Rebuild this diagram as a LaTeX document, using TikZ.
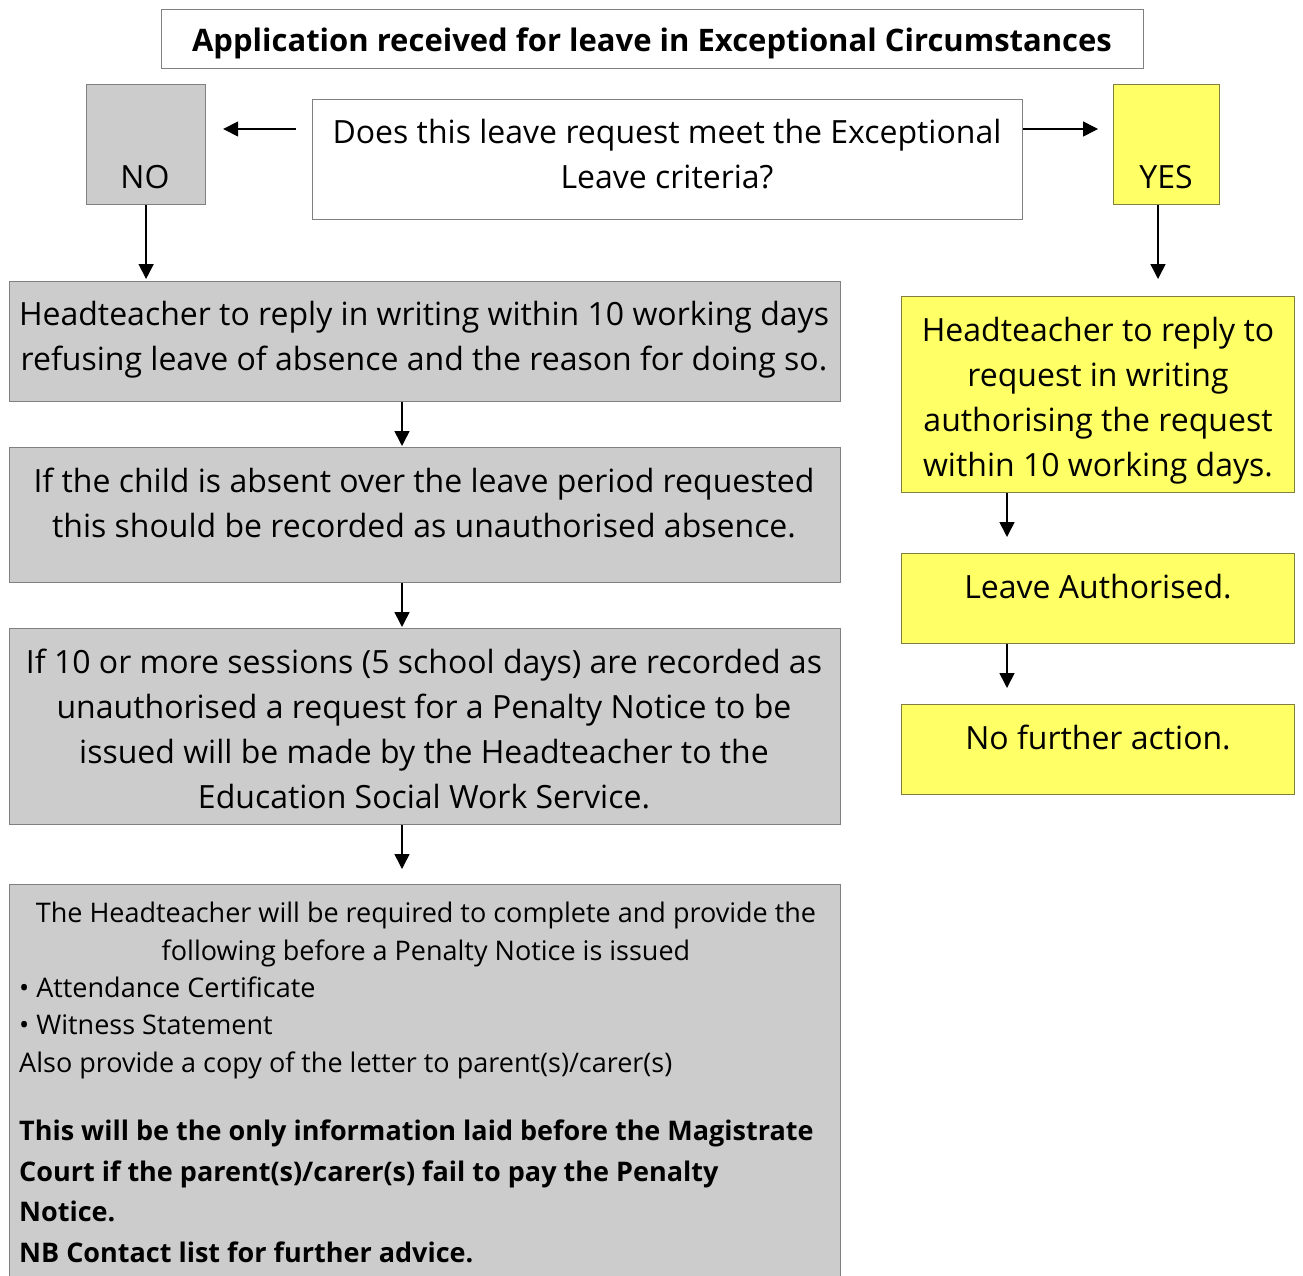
\documentclass[tikz,border=0pt]{standalone}
\usepackage{fontspec}
\setmainfont{Open Sans}
\usetikzlibrary{arrows.meta}
\definecolor{boxgray}{HTML}{CCCCCC}
\definecolor{graydraw}{HTML}{808080}
\definecolor{boxyellow}{HTML}{FFFF66}
\definecolor{yellowdraw}{HTML}{7F7F3F}
\begin{document}
\begin{tikzpicture}[x=1pt,y=-1pt,
  basebox/.style={rectangle, anchor=north west, inner sep=0pt, line width=1.2pt},
  whitebox/.style={basebox, draw=graydraw, fill=white},
  graybox/.style={basebox, draw=graydraw, fill=boxgray},
  yellowbox/.style={basebox, draw=yellowdraw, fill=boxyellow},
  txt/.style={anchor=base, inner sep=0pt, align=center, font=\fontsize{32}{45}\selectfont},
  ltxt/.style={anchor=base west, inner sep=0pt, align=left},
  arr/.style={line width=1.6pt, -{Triangle[length=15pt,width=15pt]}}
]
\useasboundingbox (0,0) rectangle (1303,1276);

% boxes
\node[whitebox, minimum width=982pt, minimum height=59pt] (title) at (161,9) {};
\node[graybox, minimum width=119pt, minimum height=120pt] (no) at (86,84) {};
\node[whitebox, minimum width=710pt, minimum height=120pt] (q) at (312,99) {};
\node[yellowbox, minimum width=106pt, minimum height=120pt] (yes) at (1113,84) {};
\node[graybox, minimum width=831pt, minimum height=120pt] (h1) at (9,281) {};
\node[graybox, minimum width=831pt, minimum height=135pt] (h2) at (9,447) {};
\node[graybox, minimum width=831pt, minimum height=196pt] (h3) at (9,628) {};
\node[graybox, minimum width=831pt, minimum height=420pt] (h4) at (9,884) {};
\node[yellowbox, minimum width=393pt, minimum height=196pt] (y1) at (901,296) {};
\node[yellowbox, minimum width=393pt, minimum height=90pt] (y2) at (901,553) {};
\node[yellowbox, minimum width=393pt, minimum height=90pt] (y3) at (901,704) {};

% texts (base anchor = baseline of the last line)
\node[txt, font=\bfseries\fontsize{31}{45}\selectfont] (ttitle) at (652,52) {Application received for leave in Exceptional Circumstances};
\node[txt] (tq) at (667,189) {Does this leave request meet the Exceptional\\Leave criteria?};
\node[txt] (tno) at (145,189) {NO};
\node[txt] (tyes) at (1166,189) {YES};
\node[txt] (th1) at (424,370) {Headteacher to reply in writing within 10 working days\\refusing leave of absence and the reason for doing so.};
\node[txt] (th2) at (424,537) {If the child is absent over the leave period requested\\this should be recorded as unauthorised absence.};
\node[txt] (th3) at (424,808) {If 10 or more sessions (5 school days) are recorded as\\unauthorised a request for a Penalty Notice to be\\issued will be made by the Headteacher to the\\Education Social Work Service.};
\node[txt] (ty1) at (1098,476) {Headteacher to reply to\\request in writing\\authorising the request\\within 10 working days.};
\node[txt] (ty2) at (1098,598) {Leave Authorised.};
\node[txt] (ty3) at (1098,749) {No further action.};
\node[txt, font=\fontsize{27}{37.5}\selectfont] (th4a) at (426,960) {The Headteacher will be required to complete and provide the\\following before a Penalty Notice is issued};
\node[ltxt, font=\fontsize{27}{37.5}\selectfont] (th4b) at (19,1072) {\textbullet\ Attendance Certificate\\\textbullet\ Witness Statement\\Also provide a copy of the letter to parent(s)/carer(s)};
\node[ltxt, font=\bfseries\fontsize{27}{40.5}\selectfont] (th4c) at (19,1262) {This will be the only information laid before the Magistrate\\Court if the parent(s)/carer(s) fail to pay the Penalty\\Notice.\\NB Contact list for further advice.};

% arrows
\coordinate (ax) at (402,0);
\coordinate (ay) at (1007,0);
\coordinate (ayes) at (1158,0);
\draw[arr, shorten <=16pt, shorten >=17pt] (q.west |- 0,129) -- (no.east |- 0,129);
\draw[arr, shorten >=15pt] (q.east |- 0,129) -- (yes.west |- 0,129);
\draw[arr, shorten >=2pt] (no.south) -- (no.south |- h1.north);
\draw[arr, shorten >=17pt] (yes.south -| ayes) -- (y1.north -| ayes);
\draw[arr, shorten >=1pt] (h1.south -| ax) -- (h2.north -| ax);
\draw[arr, shorten >=1pt] (h2.south -| ax) -- (h3.north -| ax);
\draw[arr, shorten >=15pt] (h3.south -| ax) -- (h4.north -| ax);
\draw[arr, shorten >=16pt] (y1.south -| ay) -- (y2.north -| ay);
\draw[arr, shorten >=16pt] (y2.south -| ay) -- (y3.north -| ay);
\end{tikzpicture}
\end{document}
